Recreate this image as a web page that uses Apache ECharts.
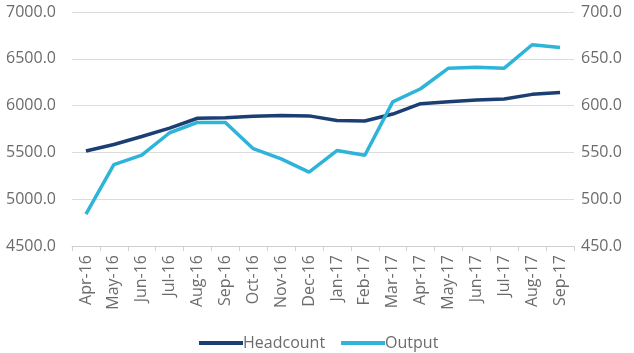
<!DOCTYPE html>
<html>
<head>
<meta charset="utf-8">
<script src="https://cdn.jsdelivr.net/npm/echarts@6/dist/echarts.min.js"></script>
<style>
  html, body { margin: 0; padding: 0; background: #ffffff; }
  #chart { width: 634px; height: 353px; }
</style>
</head>
<body>
<div id="chart"></div>
<script>
// Monthly categories
const months = ['Apr-16', 'May-16', 'Jun-16', 'Jul-16', 'Aug-16', 'Sep-16', 'Oct-16', 'Nov-16', 'Dec-16',
  'Jan-17', 'Feb-17', 'Mar-17', 'Apr-17', 'May-17', 'Jun-17', 'Jul-17', 'Aug-17', 'Sep-17'];

// Headcount (left axis)
const headcount = [5515, 5585, 5670, 5760, 5865, 5870, 5885, 5895, 5890,
  5840, 5835, 5910, 6020, 6040, 6060, 6070, 6120, 6140];

// Output (right axis)
const output = [484, 537, 547, 571, 582, 582, 554, 543, 529,
  552, 547, 604, 618, 640, 641, 640, 665, 662];

const labelFont = { fontFamily: 'Open Sans', fontSize: 16, color: '#6b6b6b' };
const fmt = v => v.toFixed(1);

const chart = echarts.init(document.getElementById('chart'), null, { renderer: 'canvas' });
chart.setOption({
  animation: false,
  backgroundColor: '#ffffff',
  grid: { left: 72, right: 60, top: 12, bottom: 107, containLabel: false },
  legend: {
    bottom: -3,
    left: 194,
    itemWidth: 44,
    itemHeight: 4,
    itemGap: 16,
    icon: 'rect',
    textStyle: Object.assign({}, labelFont, { padding: [0, 0, 0, -5] }),
    data: ['Headcount', 'Output']
  },
  xAxis: {
    type: 'category',
    data: months,
    boundaryGap: true,
    axisLine: { lineStyle: { color: '#d0d0d0', width: 1 } },
    axisTick: { show: true, alignWithLabel: false, length: 5, lineStyle: { color: '#d0d0d0' } },
    axisLabel: Object.assign({}, labelFont, { rotate: 90, interval: 0, margin: 9 }),
    splitLine: { show: false }
  },
  yAxis: [
    {
      type: 'value', min: 4500, max: 7000, interval: 500,
      axisLine: { show: false }, axisTick: { show: false },
      axisLabel: Object.assign({}, labelFont, { formatter: fmt, margin: 16 }),
      splitLine: { lineStyle: { color: '#dcdcdc', width: 1 } }
    },
    {
      type: 'value', min: 450, max: 700, interval: 50,
      axisLine: { show: false }, axisTick: { show: false },
      axisLabel: Object.assign({}, labelFont, { formatter: fmt, margin: 7 }),
      splitLine: { show: false }
    }
  ],
  series: [
    {
      name: 'Headcount', type: 'line', yAxisIndex: 0, data: headcount,
      showSymbol: false, symbol: 'none',
      lineStyle: { color: '#1c3f73', width: 3.5 },
      itemStyle: { color: '#1c3f73' }
    },
    {
      name: 'Output', type: 'line', yAxisIndex: 1, data: output,
      showSymbol: false, symbol: 'none',
      lineStyle: { color: '#2db4d8', width: 3.5 },
      itemStyle: { color: '#2db4d8' }
    }
  ]
});
</script>
</body>
</html>
